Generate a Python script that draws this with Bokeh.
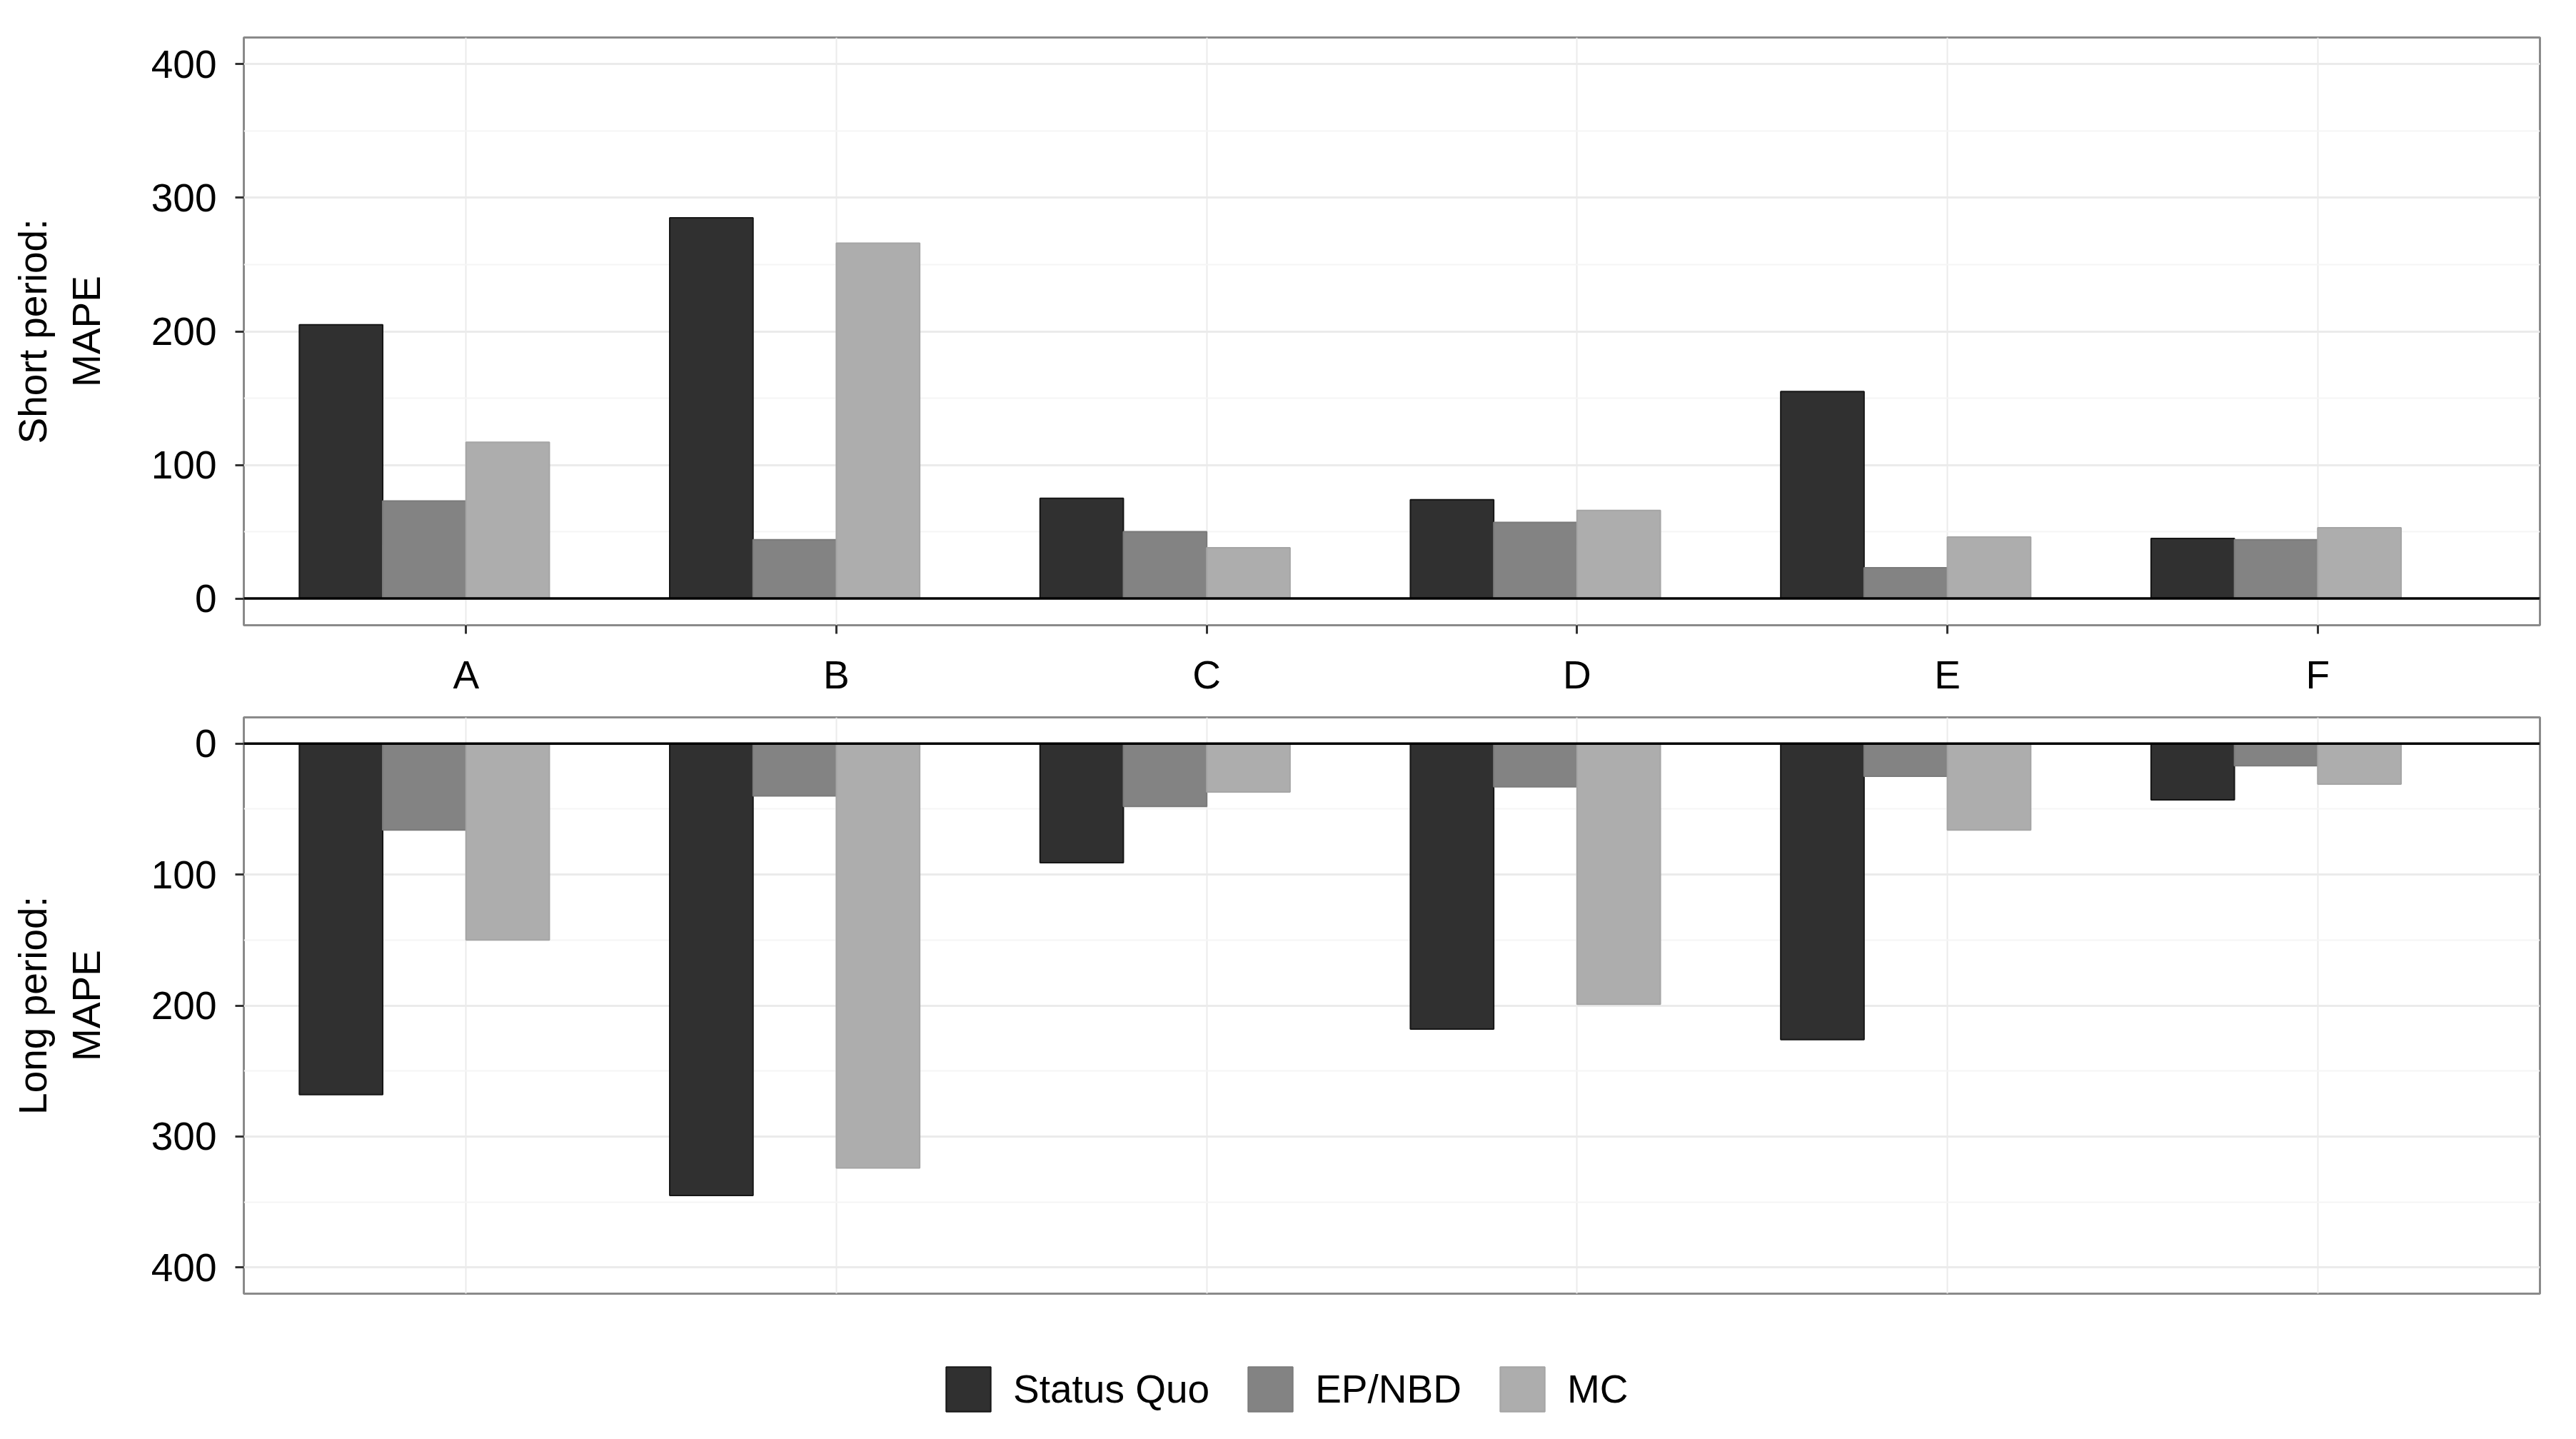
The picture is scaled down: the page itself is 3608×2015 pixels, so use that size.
from bokeh.plotting import figure
from bokeh.layouts import column, row, Spacer
from bokeh.models import (ColumnDataSource, FactorRange, Range1d, FixedTicker, Span,
                          Legend, LegendItem)
from bokeh.transform import dodge
from bokeh.embed import file_html
from bokeh.resources import INLINE

# ---------------- data ----------------
categories = ["A", "B", "C", "D", "E", "F"]
series = ["Status Quo", "EP/NBD", "MC"]

short_status_quo = [205, 285, 75, 74, 155, 45]
short_ep_nbd = [73, 44, 50, 57, 23, 44]
short_mc = [117, 266, 38, 66, 46, 53]

long_status_quo = [268, 345, 91, 218, 226, 43]
long_ep_nbd = [66, 40, 48, 33, 25, 17]
long_mc = [150, 324, 37, 199, 66, 31]

y_ticks = [0, 100, 200, 300, 400]
y_minor_ticks = [50, 150, 250, 350]

# ---------------- style ----------------
FONT = "Liberation Sans"
FS = "55px"
fills = ["#303030", "#838383", "#adadad"]
edges = ["#161616", "#7b7b7b", "#a5a5a5"]
offsets = [-0.3375, -0.1125, 0.1125]
BAR_W = 0.225
PAD = 12
W = 3590 - PAD

source = ColumnDataSource(dict(
    cats=categories,
    s_sq=short_status_quo, s_ep=short_ep_nbd, s_mc=short_mc,
    l_sq=long_status_quo, l_ep=long_ep_nbd, l_mc=long_mc,
))


def panel(cols, y_range, label, height, btop, bbottom, show_x):
    xr = FactorRange(factors=categories, range_padding=0.1, range_padding_units="absolute")
    p = figure(width=W, height=height, x_range=xr, y_range=y_range,
               output_backend="svg", toolbar_location=None,
               min_border_left=0, min_border_right=33,
               min_border_top=btop, min_border_bottom=bbottom)
    p.background_fill_color = "white"
    p.border_fill_color = "white"
    p.outline_line_color = "#8a8a8a"
    p.outline_line_width = 3

    for col, off, fc, lc in zip(cols, offsets, fills, edges):
        p.vbar(x=dodge("cats", off, range=p.x_range), top=col, bottom=0, width=BAR_W,
               source=source, fill_color=fc, line_color=lc, line_width=2)

    p.add_layout(Span(location=0, dimension="width", line_color="black", line_width=3.5))

    # grids
    p.ygrid.ticker = FixedTicker(ticks=y_ticks, minor_ticks=y_minor_ticks)
    p.ygrid.grid_line_color = "#ebebeb"
    p.ygrid.grid_line_width = 3
    p.ygrid.minor_grid_line_color = "#f5f5f5"
    p.ygrid.minor_grid_line_width = 2
    p.xgrid.grid_line_color = "#ebebeb"
    p.xgrid.grid_line_width = 2

    # y axis
    ya = p.yaxis[0]
    ya.ticker = FixedTicker(ticks=y_ticks, minor_ticks=y_minor_ticks)
    ya.axis_line_color = None
    ya.minor_tick_line_color = None
    ya.major_tick_in = 0
    ya.major_tick_out = 12
    ya.major_tick_line_color = "#333333"
    ya.major_tick_line_width = 3
    ya.major_label_text_font = FONT
    ya.major_label_text_font_size = FS
    ya.major_label_text_color = "black"
    ya.major_label_standoff = 26
    ya.axis_label = label
    ya.axis_label_text_font = FONT
    ya.axis_label_text_font_size = FS
    ya.axis_label_text_font_style = "normal"
    ya.axis_label_text_color = "black"
    ya.axis_label_standoff = 57

    xa = p.xaxis[0]
    if show_x:
        xa.axis_line_color = None
        xa.major_tick_in = 0
        xa.major_tick_out = 12
        xa.major_tick_line_color = "#333333"
        xa.major_tick_line_width = 3
        xa.major_label_text_font = FONT
        xa.major_label_text_font_size = FS
        xa.major_label_text_color = "black"
        xa.major_label_standoff = 26
    else:
        xa.visible = False
    return p


top = panel(["s_sq", "s_ep", "s_mc"], Range1d(-20, 420), "Short period:\nMAPE",
            980, 52, 105, True)
bottom = panel(["l_sq", "l_ep", "l_mc"], Range1d(420, -20), "Long period:\nMAPE",
               900, 24, 69, False)

# legend strip: swatch renderers are hidden, only the legend shows them
leg = figure(width=W, height=130, output_backend="svg", toolbar_location=None,
             x_range=FactorRange(factors=series), y_range=Range1d(1, 2),
             x_axis_type=None, y_axis_type=None,
             min_border_left=338 - 8 - PAD, min_border_right=33,
             min_border_top=0, min_border_bottom=0)
leg.outline_line_color = None
leg.xgrid.visible = False
leg.ygrid.visible = False
items = []
for name, fc, lc in zip(series, fills, edges):
    src = ColumnDataSource(dict(x=[name], top=[0]))
    r = leg.vbar(x="x", top="top", bottom=0, width=0.1, source=src, fill_color=fc,
                 line_color=lc, line_width=2, visible=False)
    items.append(LegendItem(label=name, renderers=[r]))
legend = Legend(items=items, orientation="horizontal", location=(987, 26),
                glyph_width=78, glyph_height=78, label_text_font=FONT,
                label_text_font_size=FS, label_text_color="black",
                label_standoff=24, spacing=46, padding=0, margin=0,
                border_line_color=None, background_fill_alpha=0,
                inactive_fill_alpha=0)
leg.add_layout(legend, "center")

layout = column(row(Spacer(width=PAD), top),
                row(Spacer(width=PAD), bottom),
                row(Spacer(width=PAD), leg), spacing=0)
open("out.html", "w").write(file_html(layout, INLINE))
